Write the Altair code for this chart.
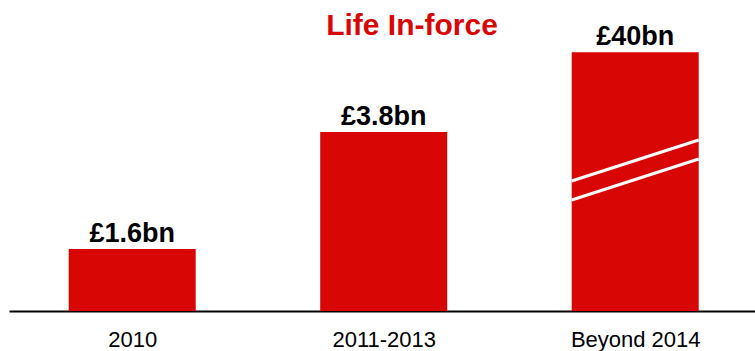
import altair as alt
import pandas as pd

categories = ["2010", "2011-2013", "Beyond 2014"]
labels = ["£1.6bn", "£3.8bn", "£40bn"]
# visual bar heights (axis is broken on the last bar)
bar_heights = [1.6, 4.62, 6.68]
positions = [0, 1, 2]
half_width = 0.2525

# broken-axis marks on the third bar (two slanted white lines)
break_y_left = [3.355, 2.865]
break_y_right = [4.413, 3.923]

title_text = "Life In-force"
RED = "#D90606"
FONT = "Liberation Sans"

bars = pd.DataFrame({
    "cat": categories,
    "pos": positions,
    "x0": [p - half_width for p in positions],
    "x1": [p + half_width for p in positions],
    "h": bar_heights,
    "label": labels,
})

breaks = pd.DataFrame({
    "x0": [positions[2] - half_width] * 2,
    "x1": [positions[2] + half_width] * 2,
    "y0": break_y_left,
    "y1": break_y_right,
})

xscale = alt.Scale(domain=[-0.4899, 2.4763], nice=False, zero=False)
yscale = alt.Scale(domain=[0, 311 / 38.75], nice=False)

label_expr = "datum.value == 0 ? '2010' : datum.value == 1 ? '2011-2013' : 'Beyond 2014'"

base = alt.Chart(bars)

rects = base.mark_rect(color=RED).encode(
    x=alt.X("x0:Q", scale=xscale,
            axis=alt.Axis(values=positions, labelExpr=label_expr, title=None,
                          grid=False, ticks=False, tickSize=0, domainColor="black",
                          domainWidth=2, labelFont=FONT, labelFontSize=22,
                          labelColor="black", labelPadding=18)),
    x2="x1:Q",
    y=alt.Y("h:Q", scale=yscale, axis=None),
    y2=alt.datum(0),
)

texts = base.mark_text(font=FONT, fontSize=27, fontWeight="bold", color="black",
                       baseline="alphabetic", dy=-7).encode(
    x=alt.X("pos:Q", scale=xscale),
    y=alt.Y("h:Q", scale=yscale),
    text="label:N",
)

lines = alt.Chart(breaks).mark_rule(color="white", strokeWidth=3).encode(
    x=alt.X("x0:Q", scale=xscale),
    x2="x1:Q",
    y=alt.Y("y0:Q", scale=yscale),
    y2="y1:Q",
)

title = alt.Chart(pd.DataFrame({"t": [title_text]})).mark_text(
    font=FONT, fontSize=30, fontWeight="bold", color=RED, baseline="alphabetic"
).encode(text="t:N", x=alt.value(403), y=alt.value(35))

chart = alt.layer(rects, lines, texts, title).properties(
    width=746, height=311,
    autosize=alt.AutoSizeParams(type="none"),
    padding={"left": 9, "top": 0, "right": 0, "bottom": 40},
).configure_view(stroke=None)

chart.save("out.html", embed_options={"renderer": "svg", "actions": False})
